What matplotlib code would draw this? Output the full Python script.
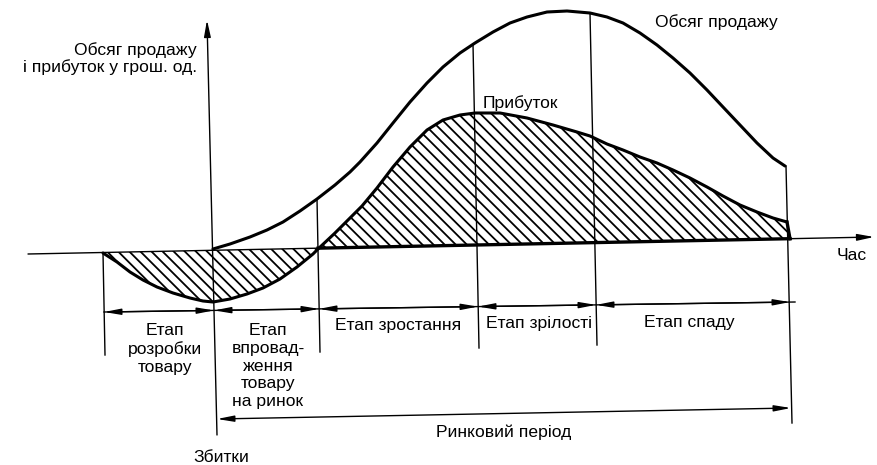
import numpy as np
import matplotlib
matplotlib.use("Agg")
import matplotlib.pyplot as plt

plt.rcParams['font.family'] = ['Liberation Sans', 'DejaVu Sans']
plt.rcParams['hatch.linewidth'] = 1.3

# ---- data (in picture units) ----
sales_x = [213, 230, 250, 267, 283, 300, 317, 335, 350, 360, 377, 393, 410, 427, 443,
           460, 475, 493, 510, 527, 547, 567, 590, 607, 623, 640, 657, 673, 690, 707,
           723, 740, 757, 773, 785]
sales_y = [249, 244, 237, 230, 222, 211, 199, 185, 172, 162, 143, 123, 102, 83, 67,
           53, 43, 32, 23, 17, 12, 11, 13, 17, 23, 33, 45, 58, 73, 90,
           107, 125, 143, 158, 166]

profit_x = [103, 117, 130, 143, 157, 173, 190, 203, 213, 230, 247, 263, 280, 297, 313,
            318, 335, 350, 362, 377, 393, 410, 427, 443, 460, 475, 500, 527, 553, 577,
            590, 607, 623, 640, 657, 673, 690, 707, 723, 740, 757, 773, 787]
profit_y = [253, 262, 272, 280, 287, 293, 298, 301, 302, 299, 294, 288, 279, 267, 254,
            249, 233, 218, 206, 188, 167, 147, 130, 120, 115, 113, 113, 118, 125, 132,
            136, 144, 150, 157, 163, 170, 178, 187, 196, 205, 212, 218, 222]

# time axis (start, arrow tip)
axis_x = [28, 874]
axis_y = [254, 237]
# value axis (bottom, arrow tip)
vaxis_x = [217, 207]
vaxis_y = [435, 20]

# stage boundary lines: (x_top, y_top, x_bottom, y_bottom)
boundaries = [
    (103, 253, 105, 355),
    (317, 199, 320, 352),
    (473, 44, 479, 348),
    (590, 13, 597, 345),
    (786, 166, 792, 423),
]
# stage dimension line
stage_line_x = [104, 795]
stage_line_y = [312, 302]
stage_marks = [104, 214, 319, 478, 596, 790]
# market-period dimension line
market_x = [217, 791]
market_y = [419, 408]

stage_labels = [
    (165, [335, 353.5, 372], ["Етап", "розробки", "товару"]),
    (268, [335, 353, 370.5, 388, 405.5], ["Етап", "впровад-", "ження", "товару", "на ринок"]),
    (398, [330], ["Етап зростання"]),
    (539, [328], ["Етап зрілості"]),
    (689, [327], ["Етап спаду"]),
]

FS = 12.6

fig = plt.figure(figsize=(8.77, 4.65), dpi=100)
ax = fig.add_axes([0, 0, 1, 1])
ax.set_xlim(0, 877)
ax.set_ylim(465, 0)
ax.axis('off')

px = np.array(profit_x, float)
py = np.array(profit_y, float)
base = np.interp(px, axis_x, axis_y)

# hatched profit / loss areas
ax.fill_between(px, py, base, facecolor='none', edgecolor='black',
                hatch='\\\\\\', linewidth=0)

arrow_kw = dict(color='black', lw=1.0, shrinkA=0, shrinkB=0)

# time axis
ax.annotate('', xy=(axis_x[1], axis_y[1]), xytext=(axis_x[0], axis_y[0]),
            arrowprops=dict(arrowstyle='-|>,head_length=1.0,head_width=0.2', **arrow_kw))
# value axis
ax.annotate('', xy=(vaxis_x[1], vaxis_y[1]), xytext=(vaxis_x[0], vaxis_y[0]),
            arrowprops=dict(arrowstyle='-|>,head_length=1.0,head_width=0.2', **arrow_kw))

# curves
ax.plot(sales_x, sales_y, color='black', lw=2.2, solid_capstyle='round',
        solid_joinstyle='round')
ax.plot(px, py, color='black', lw=2.2, solid_capstyle='round', solid_joinstyle='round')
# thick base of the profit area
pos = px >= 318
x_end = px[-1] + 3
ax.plot([px[pos][0], x_end], [np.interp(px[pos][0], axis_x, axis_y),
                              np.interp(x_end, axis_x, axis_y)],
        color='black', lw=2.4)
ax.plot([px[-1], x_end], [py[-1], np.interp(x_end, axis_x, axis_y)],
        color='black', lw=2.4)

# boundary lines
for xt, yt, xb, yb in boundaries:
    ax.plot([xt, xb], [yt, yb], color='black', lw=1.0)

# stage dimension line
ax.plot(stage_line_x, stage_line_y, color='black', lw=1.0)
sy = np.interp(stage_marks, stage_line_x, stage_line_y)
for i in range(len(stage_marks) - 1):
    ax.annotate('', xy=(stage_marks[i + 1], sy[i + 1]), xytext=(stage_marks[i], sy[i]),
                arrowprops=dict(arrowstyle='<|-|>,head_length=1.0,head_width=0.18',
                                **arrow_kw))

# market period dimension line
ax.annotate('', xy=(market_x[1], market_y[1]), xytext=(market_x[0], market_y[0]),
            arrowprops=dict(arrowstyle='<|-|>,head_length=1.0,head_width=0.18', **arrow_kw))

# texts
ax.text(197, 55, "Обсяг продажу", ha='right', va='baseline', fontsize=FS)
ax.text(197, 72, "і прибуток у грош. од.", ha='right', va='baseline', fontsize=FS)
ax.text(655, 27, "Обсяг продажу", ha='left', va='baseline', fontsize=FS)
ax.text(483, 108, "Прибуток", ha='left', va='baseline', fontsize=FS)
ax.text(837, 260, "Час", ha='left', va='baseline', fontsize=FS)
for cx, ys, lines in stage_labels:
    for yb, t in zip(ys, lines):
        ax.text(cx, yb, t, ha='center', va='baseline', fontsize=FS)
ax.text(504, 437, "Ринковий період", ha='center', va='baseline', fontsize=FS)
ax.text(221, 462, "Збитки", ha='center', va='baseline', fontsize=FS)

fig.savefig('out.png', dpi=100)
